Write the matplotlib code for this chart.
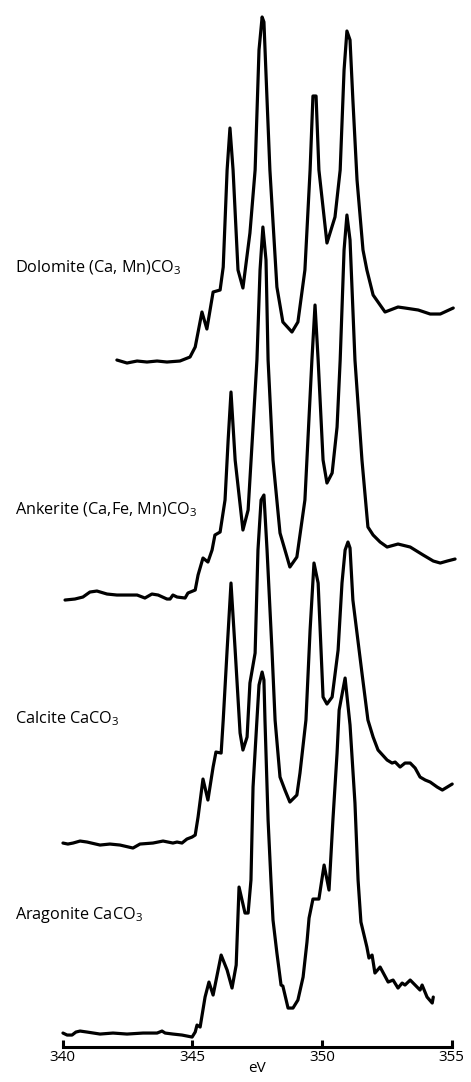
import matplotlib
matplotlib.use("Agg")
import matplotlib.pyplot as plt

# photon energy (eV) and intensity (arb. units, relative to each baseline)
dol_ev = [342.09, 342.48, 342.87, 343.25, 343.64, 344.02, 344.52, 344.91, 345.11, 345.37,
          345.56, 345.80, 346.07, 346.19, 346.34, 346.45, 346.57, 346.76, 346.95, 347.22,
          347.42, 347.57, 347.69, 347.76, 347.88, 347.99, 348.26, 348.49, 348.84, 349.07,
          349.34, 349.54, 349.65, 349.77, 349.88, 350.19, 350.50, 350.70, 350.85, 350.96,
          351.08, 351.19, 351.35, 351.58, 351.73, 351.97, 352.24, 352.43, 352.93, 353.20,
          353.71, 354.17, 354.56, 355.06]
dol_int = [0.01, -0.02, 0.00, -0.01, 0.00, -0.01, 0.00, 0.04, 0.14, 0.49,
           0.32, 0.69, 0.71, 0.94, 1.91, 2.33, 1.91, 0.91, 0.73, 1.28,
           1.91, 3.11, 3.44, 3.39, 2.61, 1.91, 0.74, 0.39, 0.29, 0.39,
           0.91, 1.91, 2.65, 2.65, 1.91, 1.18, 1.44, 1.91, 2.91, 3.30,
           3.21, 2.61, 1.81, 1.11, 0.91, 0.66, 0.56, 0.49, 0.54, 0.53,
           0.51, 0.47, 0.47, 0.53]

ank_ev = [340.09, 340.47, 340.78, 341.05, 341.32, 341.71, 342.09, 342.60, 342.87, 343.17,
          343.44, 343.68, 344.02, 344.14, 344.25, 344.41, 344.72, 344.83, 345.11, 345.22,
          345.41, 345.60, 345.76, 345.87, 346.07, 346.26, 346.38, 346.49, 346.65, 346.95,
          347.15, 347.34, 347.49, 347.61, 347.72, 347.84, 347.92, 348.11, 348.38, 348.65,
          348.76, 349.03, 349.34, 349.61, 349.73, 349.85, 350.04, 350.19, 350.39, 350.58,
          350.70, 350.85, 350.96, 351.08, 351.27, 351.54, 351.77, 351.97, 352.24, 352.51,
          352.93, 353.40, 353.90, 354.29, 354.56, 354.83, 355.13]
ank_int = [-0.03, -0.02, 0.00, 0.05, 0.06, 0.03, 0.02, 0.02, 0.02, -0.01,
           0.03, 0.02, -0.02, -0.02, 0.02, 0.00, -0.01, 0.04, 0.07, 0.22,
           0.39, 0.35, 0.47, 0.62, 0.65, 0.97, 1.57, 2.05, 1.37, 0.67,
           0.87, 1.70, 2.37, 3.27, 3.70, 3.37, 2.37, 1.37, 0.64, 0.40,
           0.30, 0.40, 0.97, 2.37, 2.92, 2.37, 1.37, 1.14, 1.24, 1.70,
           2.37, 3.47, 3.82, 3.57, 2.37, 1.37, 0.70, 0.62, 0.55, 0.50,
           0.53, 0.50, 0.42, 0.36, 0.34, 0.36, 0.38]

cal_ev = [340.01, 340.20, 340.40, 340.67, 340.94, 341.44, 341.82, 342.21, 342.71, 342.98,
          343.48, 343.87, 344.25, 344.41, 344.60, 344.79, 344.99, 345.11, 345.22, 345.41,
          345.60, 345.80, 345.91, 346.11, 346.19, 346.34, 346.49, 346.65, 346.84, 346.95,
          347.11, 347.22, 347.42, 347.53, 347.65, 347.76, 347.88, 348.07, 348.19, 348.38,
          348.57, 348.76, 349.03, 349.15, 349.38, 349.54, 349.69, 349.85, 350.04, 350.19,
          350.39, 350.62, 350.77, 350.89, 351.00, 351.08, 351.19, 351.54, 351.77, 351.97,
          352.16, 352.51, 352.70, 352.82, 353.01, 353.20, 353.40, 353.59, 353.78, 353.98,
          354.17, 354.44, 354.64, 354.83, 355.02]
cal_int = [0.00, -0.01, 0.00, 0.02, 0.01, -0.02, -0.01, -0.02, -0.05, -0.01,
           0.00, 0.02, 0.00, 0.01, 0.00, 0.04, 0.06, 0.08, 0.26, 0.64,
           0.43, 0.76, 0.91, 0.90, 1.23, 1.93, 2.60, 1.93, 1.10, 0.93,
           1.06, 1.60, 1.90, 2.93, 3.43, 3.48, 2.93, 1.93, 1.23, 0.66,
           0.53, 0.41, 0.48, 0.70, 1.23, 2.13, 2.80, 2.60, 1.46, 1.39,
           1.46, 1.93, 2.60, 2.93, 3.01, 2.95, 2.43, 1.70, 1.23, 1.06,
           0.93, 0.83, 0.80, 0.81, 0.76, 0.80, 0.80, 0.75, 0.66, 0.63,
           0.61, 0.56, 0.53, 0.56, 0.59]

ara_ev = [340.01, 340.17, 340.36, 340.51, 340.67, 340.94, 341.44, 341.94, 342.48, 343.10,
          343.64, 343.83, 343.95, 344.25, 344.60, 344.99, 345.11, 345.18, 345.30, 345.49,
          345.64, 345.80, 346.11, 346.34, 346.53, 346.69, 346.80, 347.03, 347.15, 347.26,
          347.34, 347.49, 347.57, 347.69, 347.76, 347.80, 347.92, 348.03, 348.11, 348.26,
          348.42, 348.49, 348.69, 348.88, 349.07, 349.27, 349.42, 349.50, 349.65, 349.88,
          350.08, 350.27, 350.42, 350.58, 350.66, 350.89, 351.08, 351.27, 351.39, 351.50,
          351.73, 351.81, 351.93, 352.04, 352.24, 352.55, 352.74, 352.93, 353.09, 353.20,
          353.40, 353.59, 353.78, 353.86, 354.05, 354.25, 354.29]
ara_int = [0.01, -0.01, -0.01, 0.02, 0.03, 0.02, 0.00, 0.01, 0.00, 0.01,
           0.01, 0.03, 0.01, 0.00, -0.01, -0.03, 0.02, 0.09, 0.07, 0.37,
           0.52, 0.39, 0.79, 0.64, 0.46, 0.69, 1.47, 1.21, 1.21, 1.54,
           2.47, 3.14, 3.49, 3.62, 3.54, 3.14, 2.14, 1.54, 1.14, 0.81,
           0.49, 0.48, 0.26, 0.26, 0.34, 0.57, 0.92, 1.16, 1.35, 1.35,
           1.69, 1.44, 2.14, 2.81, 3.24, 3.56, 3.09, 2.31, 1.54, 1.12,
           0.87, 0.76, 0.79, 0.61, 0.67, 0.52, 0.54, 0.46, 0.51, 0.49,
           0.54, 0.49, 0.44, 0.49, 0.37, 0.31, 0.37]

names = ["Dolomite (Ca, Mn)CO$_\\mathrm{3}$", "Ankerite (Ca,Fe, Mn)CO$_\\mathrm{3}$",
         "Calcite CaCO$_\\mathrm{3}$", "Aragonite CaCO$_\\mathrm{3}$"]
spectra = [(dol_ev, dol_int), (ank_ev, ank_int), (cal_ev, cal_int), (ara_ev, ara_int)]
offsets = [6.86, 4.50, 2.04, 0.13]
label_y = [7.79, 5.37, 3.28, 1.32]

plt.rcParams["font.family"] = ["Open Sans", "DejaVu Sans"]
plt.rcParams["mathtext.fontset"] = "custom"
plt.rcParams["mathtext.rm"] = "Open Sans"

fig = plt.figure(figsize=(4.71, 10.82), dpi=100)
ax = fig.add_axes([0.1331, 0.0323, 0.8259, 0.9677])

for (ev, inten), off in zip(spectra, offsets):
    ax.plot(ev, [v + off for v in inten], color="black", linewidth=2.3,
            solid_joinstyle="round", solid_capstyle="round", clip_on=False)

for name, ly in zip(names, label_y):
    ax.text(338.16, ly, name, fontsize=11.7, ha="left", va="center")

ax.set_xlim(340, 355)
ax.set_ylim(0, 10.47)
ax.set_xticks([340, 345, 350, 355])
ax.tick_params(axis="x", direction="in", length=5, width=2.2, labelsize=11, pad=2)
ax.set_yticks([])
for s in ["left", "top", "right"]:
    ax.spines[s].set_visible(False)
ax.spines["bottom"].set_linewidth(2.2)
ax.set_xlabel("eV", fontsize=11, labelpad=-3)

fig.savefig("out.png", dpi=100, facecolor="white")
